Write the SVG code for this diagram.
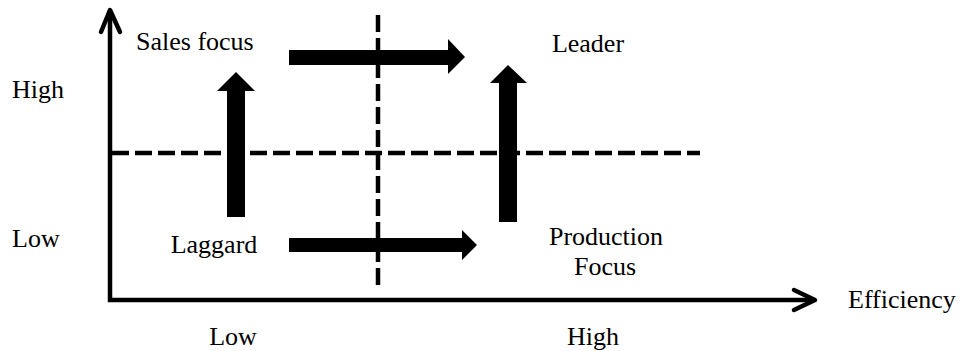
<svg xmlns="http://www.w3.org/2000/svg" width="964" height="351" viewBox="0 0 964 351">
<style>
.t{font-family:"Liberation Serif","Times New Roman",serif;font-size:26px;fill:#000}
.axis{fill:none;stroke:#000;stroke-width:4.5}
.head{fill:none;stroke:#000;stroke-width:4.5;stroke-linecap:round;stroke-linejoin:round}
.dash{fill:none;stroke:#000;stroke-width:4.5;stroke-dasharray:17 6}
.big{fill:#000}
</style>
<rect width="964" height="351" fill="#fff"/>
<g id="connectors">
<path class="axis" d="M110,11 V300 H814"/>
<path class="head" d="M101,32 L110,10 L120,32"/>
<path class="head" d="M794,290 L815,300 L794,310"/>
<path class="dash" d="M112,153 H700"/>
<path class="dash" d="M378,15 V290"/>
<path id="arrow-sales-leader" class="big" d="M289,50 H448 V39 L465,57 L448,74 V65 H289 Z"/>
<path id="arrow-laggard-production" class="big" d="M289,238 H462 V230 L477,245 L462,260 V252 H289 Z"/>
<path id="arrow-laggard-sales" class="big" d="M227,217 V91 H217 L236,72 L255,91 H245 V217 Z"/>
<path id="arrow-production-leader" class="big" d="M499,222 V83 H490 L508,65 L527,83 H517 V222 Z"/>
</g>
<g id="sales-focus"><text class="t" x="136" y="50">Sales focus</text></g>
<g id="leader"><text class="t" x="588" y="52" text-anchor="middle">Leader</text></g>
<g id="laggard"><text class="t" x="214" y="253" text-anchor="middle">Laggard</text></g>
<g id="production-focus"><text class="t" x="606" y="245" text-anchor="middle">Production</text><text class="t" x="605" y="275" text-anchor="middle">Focus</text></g>
<g id="label-high-y"><text class="t" x="12" y="98">High</text></g>
<g id="label-low-y"><text class="t" x="12" y="247">Low</text></g>
<g id="label-low-x"><text class="t" x="233" y="345" text-anchor="middle">Low</text></g>
<g id="label-high-x"><text class="t" x="593" y="345" text-anchor="middle">High</text></g>
<g id="label-efficiency"><text class="t" x="848" y="308">Efficiency</text></g>
</svg>
